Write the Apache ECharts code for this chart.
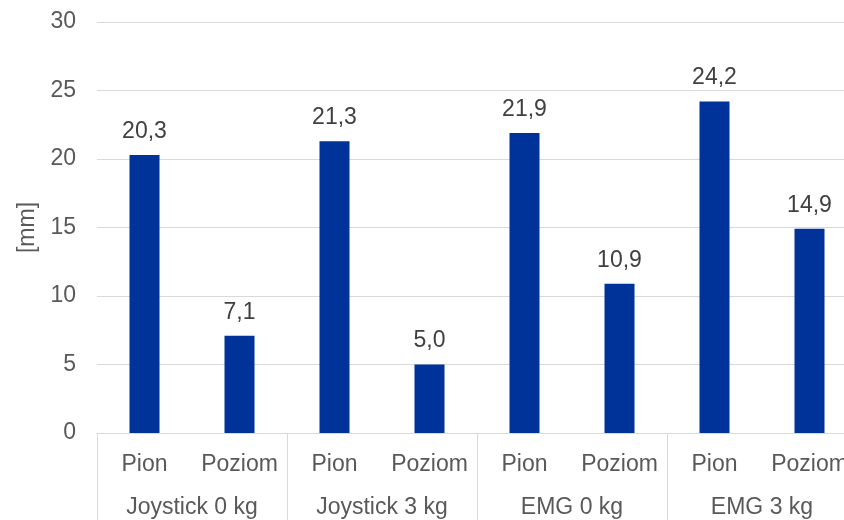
<!DOCTYPE html>
<html>
<head>
<meta charset="utf-8">
<script src="https://cdn.jsdelivr.net/npm/echarts@6/dist/echarts.min.js"></script>
<style>
  html, body { margin: 0; padding: 0; background: #fff; overflow: hidden; width: 844px; height: 520px; }
  #chart { width: 860px; height: 520px; }
</style>
</head>
<body>
<div id="chart"></div>
<script>
// Measurement categories (inner level) and the test groups they belong to (outer level)
const categories = ['Pion', 'Poziom', 'Pion', 'Poziom', 'Pion', 'Poziom', 'Pion', 'Poziom'];
const groups = ['Joystick 0 kg', 'Joystick 3 kg', 'EMG 0 kg', 'EMG 3 kg'];
// Mean displacement in millimetres
const values = [20.3, 7.1, 21.3, 5.0, 21.9, 10.9, 24.2, 14.9];
const yTicks = { min: 0, max: 30, step: 5 };

const FONT = 'Liberation Sans, Arial, sans-serif';
const chart = echarts.init(document.getElementById('chart'), null, { renderer: 'canvas' });

chart.setOption({
  animation: false,
  backgroundColor: '#ffffff',
  grid: { left: 97, top: 22, width: 760, height: 411, containLabel: false },
  xAxis: [
    {
      type: 'category',
      data: categories,
      position: 'bottom',
      axisLine: { show: true, lineStyle: { color: '#d9d9d9', width: 1 } },
      axisTick: { show: false },
      axisLabel: { interval: 0, color: '#595959', fontSize: 23, fontFamily: FONT, margin: 20 }
    },
    {
      type: 'category',
      data: groups,
      position: 'bottom',
      axisLine: { show: false },
      axisTick: { show: true, length: 90, interval: 0, lineStyle: { color: '#d9d9d9', width: 1 } },
      axisLabel: { interval: 0, color: '#595959', fontSize: 23, fontFamily: FONT, margin: 63 }
    }
  ],
  yAxis: {
    type: 'value',
    min: yTicks.min,
    max: yTicks.max,
    interval: yTicks.step,
    name: '[mm]',
    nameLocation: 'middle',
    nameGap: 57,
    nameTextStyle: { color: '#595959', fontSize: 23, fontFamily: FONT },
    axisLine: { show: false },
    axisTick: { show: false },
    axisLabel: { color: '#595959', fontSize: 23, fontFamily: FONT, margin: 21 },
    splitLine: { show: true, lineStyle: { color: '#d9d9d9', width: 1 } }
  },
  series: [
    {
      type: 'bar',
      xAxisIndex: 0,
      data: values,
      barWidth: 30,
      itemStyle: { color: '#003399' },
      label: {
        show: true,
        position: 'top',
        distance: 12,
        color: '#404040',
        fontSize: 23,
        fontFamily: FONT,
        formatter: p => p.value.toFixed(1).replace('.', ',')
      }
    }
  ]
});
</script>
</body>
</html>
